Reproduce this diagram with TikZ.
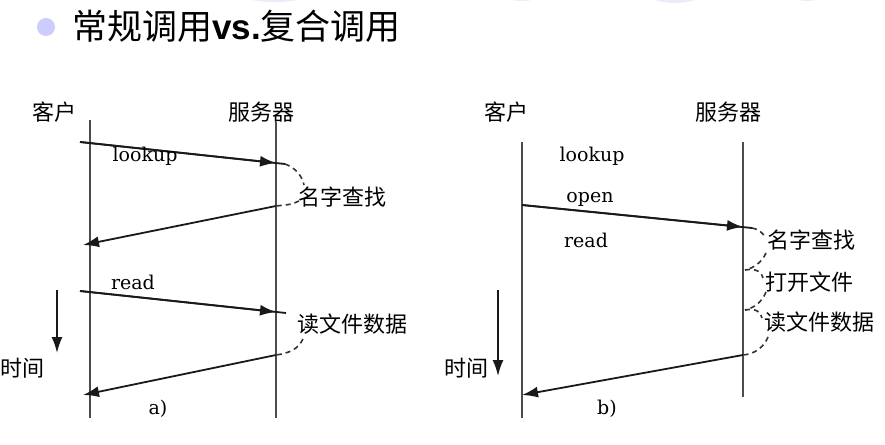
\documentclass[tikz,border=0pt]{standalone}
\usepackage{fontspec}
\setmainfont{DejaVu Serif}
\newfontfamily\cjk{Noto Sans CJK SC}
\newfontfamily\arialb{Liberation Sans}
\usetikzlibrary{arrows.meta}
\definecolor{bulletc}{RGB}{204,204,255}
\definecolor{wmark}{RGB}{236,236,249}
\begin{document}
\begin{tikzpicture}[x=1pt,y=-1pt,
  life/.style={draw=black!70, line width=2pt},
  msg/.style={draw=black!90, line width=1.8pt},
  tip/.style={-{Latex[length=16pt,width=11pt]}},
  dsh/.style={draw=black!80, line width=1.6pt, dash pattern=on 5pt off 4pt},
  zh/.style={font=\cjk\fontsize{22}{22}\selectfont, inner sep=0pt},
  en/.style={font=\fontsize{19}{19}\selectfont, inner sep=0pt},
]
\useasboundingbox (0,0) rectangle (885,444);
% faint watermark shapes at the top edge
\fill[wmark] (275,-6) ellipse [x radius=35, y radius=8];
\fill[wmark] (522,-7) ellipse [x radius=20, y radius=8];
\fill[wmark] (675,-5) ellipse [x radius=25, y radius=8];
\fill[wmark] (807,-7) ellipse [x radius=18, y radius=8];
% title
\fill[bulletc] (46,27) circle (9);
\node[anchor=base west, inner sep=0pt, font=\fontsize{35}{35}\selectfont] (title) at (72,40)
  {\cjk 常规调用{\arialb\bfseries vs.}复合调用};

% ===== left diagram a) =====
\node[zh] (ca) at (54,112) {客户};
\node[zh] (sa) at (261,112) {服务器};
\coordinate (catop) at (90,120);
\coordinate (cabot) at (90,418);
\coordinate (satop) at (276,122);
\coordinate (sabot) at (276,418);
\draw[life] (catop) -- (cabot);
\draw[life] (satop) -- (sabot);

\coordinate (a1s) at (80,142);
\coordinate (a1e) at (276,163);
\coordinate (a1x) at (285,164);
\draw[msg] (a1s) -- (a1x);
\draw[msg,tip] (a1s) -- (a1e);
\node[en] (lka) at (145,156) {lookup};
\node[zh] (nqa) at (342,197) {名字查找};
\coordinate (a1d) at (304,185);
\draw[dsh] (a1x) .. controls (296,168) and (302,176) .. (a1d);
\coordinate (a2s) at (276,206);
\coordinate (a2e) at (83,245);
\coordinate (a2d) at (299,201);
\draw[dsh] (a2d) .. controls (294,204) .. (a2s);
\draw[msg,tip] (a2s) -- (a2e);

\coordinate (a3s) at (80,291);
\coordinate (a3e) at (276,312);
\coordinate (a3x) at (286,313);
\draw[msg] (a3s) -- (a3x);
\draw[msg,tip] (a3s) -- (a3e);
\node[en] (rda) at (133,282) {read};
\node[zh] (nra) at (352,324) {读文件数据};
\coordinate (a4s) at (276,355);
\coordinate (a4e) at (83,395);
\coordinate (a4d) at (303,339);
\draw[dsh] (a4d) .. controls (298,349) and (290,353) .. (a4s);
\draw[msg,tip] (a4s) -- (a4e);
\node[en] (la) at (158,409) {a)};

\coordinate (ta1) at (57,290);
\coordinate (ta2) at (57,353);
\draw[msg,tip] (ta1) -- (ta2);
\node[zh] (tma) at (23,368) {时间};

% ===== right diagram b) =====
\node[zh] (cb) at (506,112) {客户};
\node[zh] (sb) at (728,112) {服务器};
\coordinate (cbtop) at (522,142);
\coordinate (cbbot) at (522,418);
\coordinate (sbtop) at (743,142);
\coordinate (sbbot) at (743,397);
\draw[life] (cbtop) -- (cbbot);
\draw[life] (sbtop) -- (sbbot);

\node[en] (lkb) at (592,156) {lookup};
\node[en] (opb) at (590,199) {open};
\node[en] (rdb) at (586,240) {read};

\coordinate (b1s) at (522,205);
\coordinate (b1e) at (743,227);
\coordinate (b1x) at (752,228);
\draw[msg] (b1s) -- (b1x);
\draw[msg,tip] (b1s) -- (b1e);

\node[zh] (nqb) at (811,240) {名字查找};
\node[zh] (ofb) at (809,282) {打开文件};
\node[zh] (nrb) at (819,322) {读文件数据};

\coordinate (bd1) at (765,237);
\draw[dsh] (b1x) .. controls (758,229) and (762,232) .. (bd1);
\coordinate (bd2) at (766,253);
\coordinate (bs2) at (745,270);
\draw[dsh] (bd2) .. controls (762,262) and (754,268) .. (bs2);
\coordinate (bd3) at (763,278);
\draw[dsh] (bs2) .. controls (756,268) and (762,272) .. (bd3);
\coordinate (bd4) at (766,292);
\coordinate (bs4) at (745,310);
\draw[dsh] (bd4) .. controls (762,302) and (754,308) .. (bs4);
\coordinate (bd5) at (762,318);
\draw[dsh] (bs4) .. controls (756,308) and (761,312) .. (bd5);
\coordinate (bd6) at (768,337);
\coordinate (b2s) at (743,355);
\draw[dsh] (bd6) .. controls (764,347) and (755,354) .. (b2s);

\coordinate (b2e) at (522,395);
\draw[msg,tip] (b2s) -- (b2e);
\node[en] (lb) at (607,409) {b)};

\coordinate (tb1) at (498,290);
\coordinate (tb2) at (498,376);
\draw[msg,tip] (tb1) -- (tb2);
\node[zh] (tmb) at (466,368) {时间};
\end{tikzpicture}
\end{document}
